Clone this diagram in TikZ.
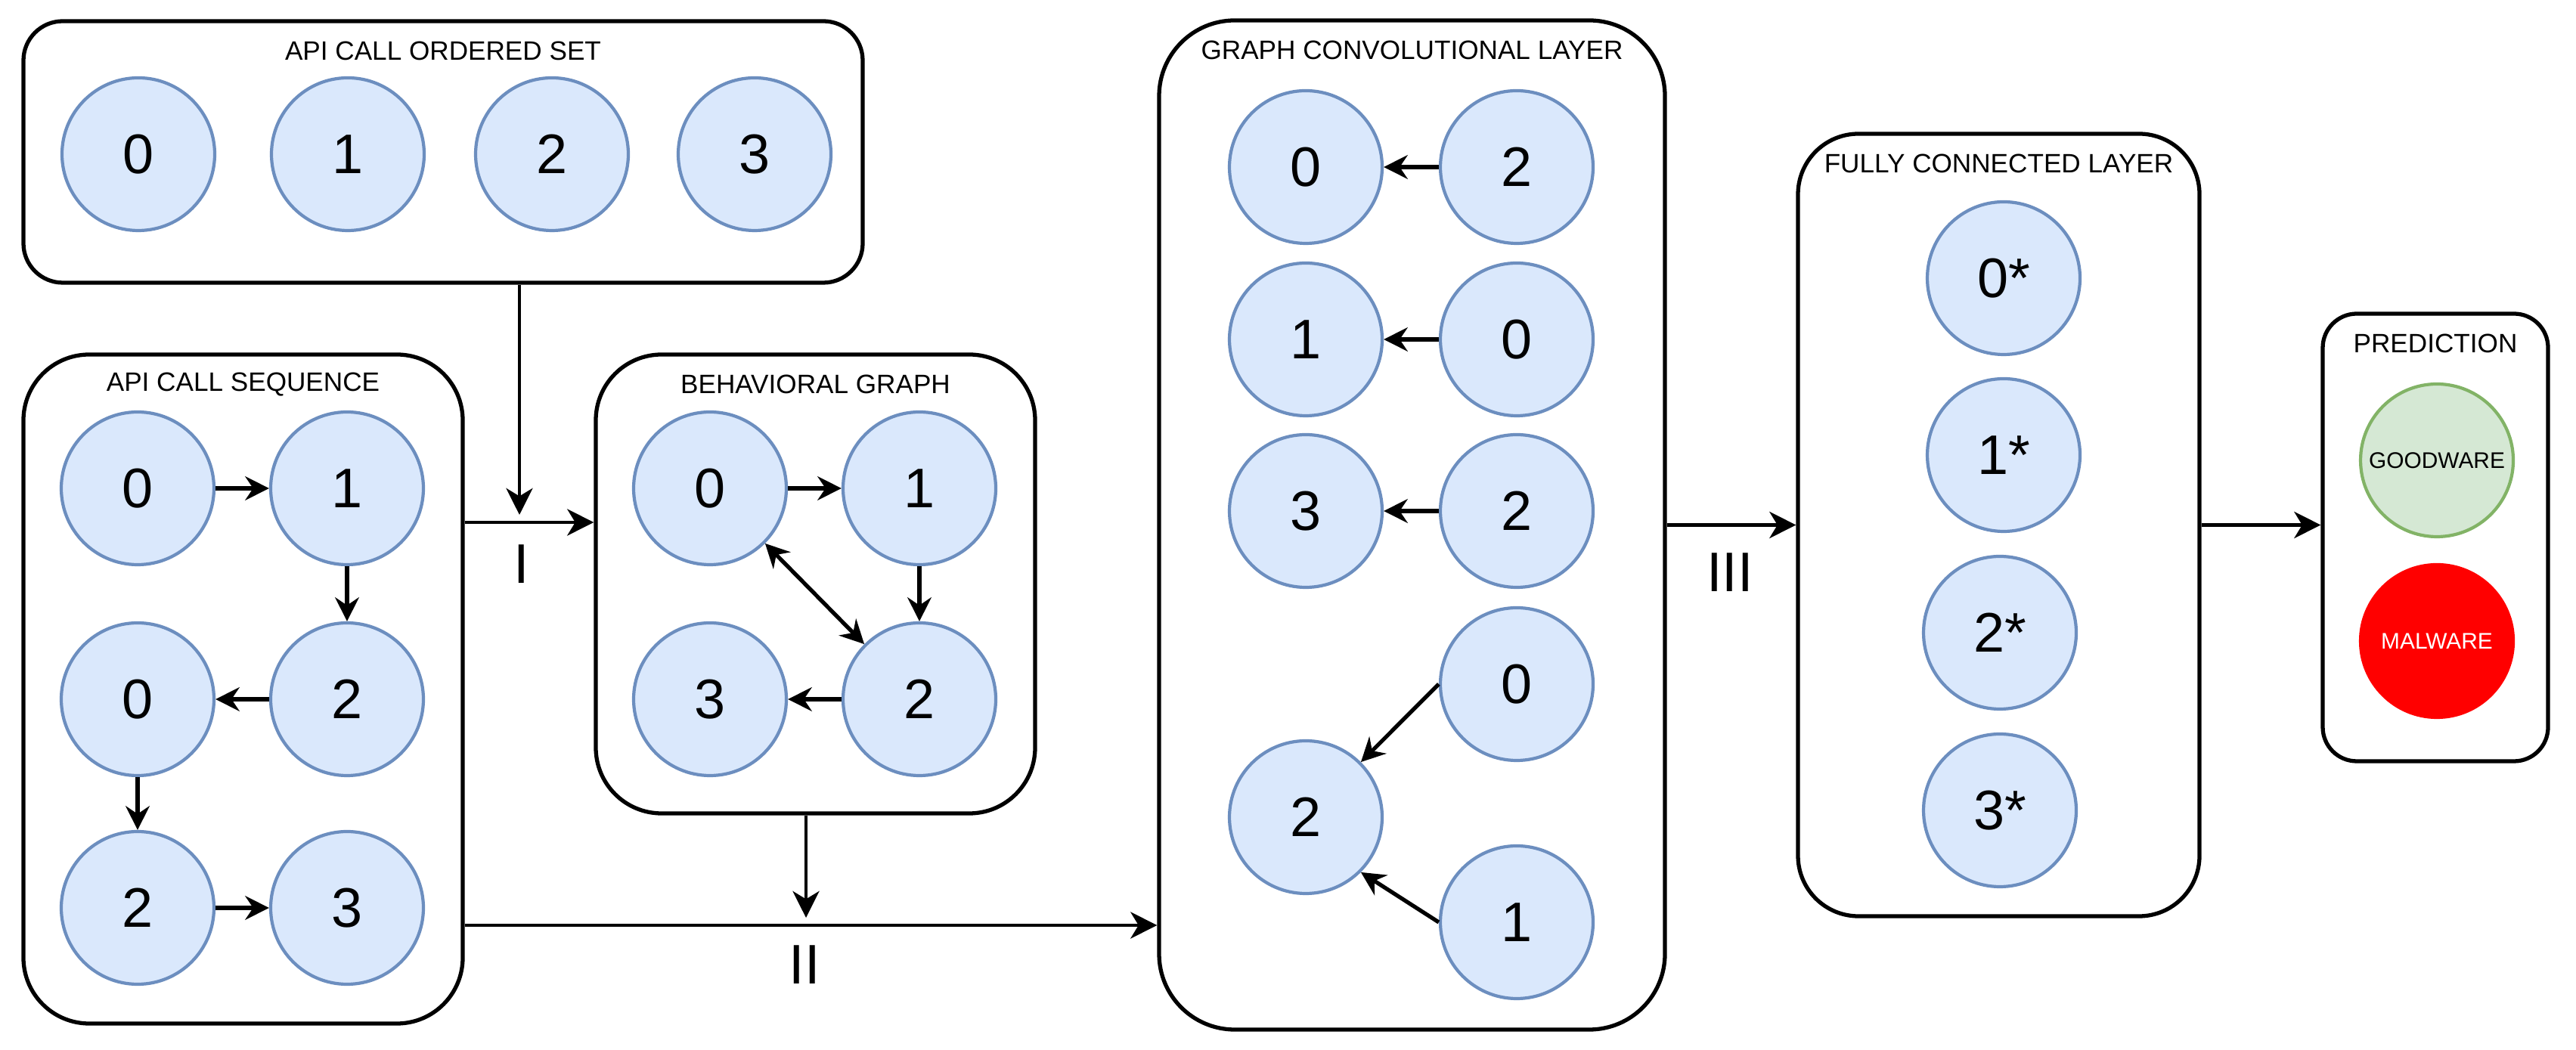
\documentclass[tikz,border=0pt]{standalone}
\usepackage{fontspec}
\setmainfont{Liberation Sans}
\usetikzlibrary{arrows.meta}

\definecolor{nodefill}{HTML}{DAE8FC}
\definecolor{nodeline}{HTML}{6C8EBF}
\definecolor{goodfill}{HTML}{D5E8D4}
\definecolor{goodline}{HTML}{82B366}
\definecolor{badfill}{HTML}{FF0000}

\begin{document}
\begin{tikzpicture}[
    box/.style={draw, line width=1.5pt, inner sep=0pt},
    ttl/.style={font=\fontsize{10}{12}\selectfont},
    num/.style={circle, draw=nodeline, fill=nodefill, line width=1.2pt, minimum size=2.02cm, inner sep=0pt, font=\fontsize{21}{25}\selectfont},
    lbl/.style={font=\fontsize{21}{25}\selectfont},
    edge/.style={line width=1.5pt, -{Stealth[length=9pt,width=9pt,inset=3pt]}},
    flow/.style={line width=1.2pt, -{Stealth[length=10pt,width=10pt,inset=3pt]}}
  ]
    \useasboundingbox (0,0) rectangle (34.07,13.89);

    \node[box, rounded corners=0.52cm, minimum width=11.10cm, minimum height=3.46cm] (os) at (5.86,11.88) {};
    \node[box, rounded corners=0.87cm, minimum width=5.81cm, minimum height=8.85cm] (seq) at (3.215,4.775) {};
    \node[box, rounded corners=0.87cm, minimum width=5.81cm, minimum height=6.07cm] (bg) at (10.785,6.165) {};
    \node[box, rounded corners=1.0cm, minimum width=6.69cm, minimum height=13.35cm] (gcn) at (18.675,6.945) {};
    \node[box, rounded corners=0.8cm, minimum width=5.31cm, minimum height=10.35cm] (fc) at (26.435,6.945) {};
    \node[box, rounded corners=0.45cm, minimum width=2.98cm, minimum height=5.92cm] (pred) at (32.21,6.78) {};

    \node[ttl] at ([yshift=-0.42cm]os.north) {API CALL ORDERED SET};
    \node[ttl] at ([yshift=-0.42cm]seq.north) {API CALL SEQUENCE};
    \node[ttl] at ([yshift=-0.42cm]bg.north) {BEHAVIORAL GRAPH};
    \node[ttl] at ([yshift=-0.42cm]gcn.north) {GRAPH CONVOLUTIONAL LAYER};
    \node[ttl] at ([yshift=-0.42cm]fc.north) {FULLY CONNECTED LAYER};
    \node[ttl] at ([yshift=-0.42cm]pred.north) {PREDICTION};

    \node[num] (o0) at (1.83,11.85) {0};
    \node[num] (o1) at (4.60,11.85) {1};
    \node[num] (o2) at (7.30,11.85) {2};
    \node[num] (o3) at (9.98,11.85) {3};

    \node[num] (s0) at (1.82,7.43) {0};
    \node[num] (s1) at (4.59,7.43) {1};
    \node[num] (s2) at (4.59,4.64) {2};
    \node[num] (s3) at (1.82,4.64) {0};
    \node[num] (s4) at (1.82,1.88) {2};
    \node[num] (s5) at (4.59,1.88) {3};

    \node[num] (b0) at (9.39,7.43) {0};
    \node[num] (b1) at (12.16,7.43) {1};
    \node[num] (b2) at (12.16,4.64) {2};
    \node[num] (b3) at (9.39,4.64) {3};

    \node[num] (g0) at (17.27,11.68) {0};
    \node[num] (g1) at (20.06,11.68) {2};
    \node[num] (g2) at (17.27,9.40) {1};
    \node[num] (g3) at (20.06,9.40) {0};
    \node[num] (g4) at (17.27,7.13) {3};
    \node[num] (g5) at (20.06,7.13) {2};
    \node[num] (g6) at (20.06,4.84) {0};
    \node[num] (g7) at (17.27,3.08) {2};
    \node[num] (g8) at (20.06,1.69) {1};

    \node[num] (f0) at (26.50,10.21) {0*};
    \node[num] (f1) at (26.50,7.87) {1*};
    \node[num] (f2) at (26.45,5.52) {2*};
    \node[num] (f3) at (26.45,3.17) {3*};

    \node[num, draw=goodline, fill=goodfill, font=\fontsize{8.5}{10}\selectfont] (good) at (32.23,7.80) {GOODWARE};
    \node[num, draw=badfill, fill=badfill, text=white, font=\fontsize{8.5}{10}\selectfont] (mal) at (32.23,5.41) {MALWARE};

    \draw[edge] (s0) -- (s1);
    \draw[edge] (s1) -- (s2);
    \draw[edge] (s2) -- (s3);
    \draw[edge] (s3) -- (s4);
    \draw[edge] (s4) -- (s5);

    \draw[edge] (b0) -- (b1);
    \draw[edge] (b1) -- (b2);
    \draw[edge] (b2) -- (b3);
    \draw[edge, {Stealth[length=9pt,width=9pt,inset=3pt]}-{Stealth[length=9pt,width=9pt,inset=3pt]}] (b0.south east) -- (b2.north west);

    \draw[edge] (g1) -- (g0);
    \draw[edge] (g3) -- (g2);
    \draw[edge] (g5) -- (g4);
    \draw[edge] (g6.west) -- (g7.north east);
    \draw[edge] (g8.west) -- (g7.south east);

    \coordinate (j1) at (6.87,6.98);
    \coordinate (j2) at (10.66,1.65);
    \draw[flow] (os.south -| j1) -- ([yshift=0.1cm]j1);
    \draw[flow] (seq.east |- j1) -- (bg.west |- j1);
    \draw[flow] (bg.south -| j2) -- ([yshift=0.1cm]j2);
    \draw[flow] (seq.east |- j2) -- (gcn.west |- j2);
    \draw[flow] (gcn.east) -- (fc.west);
    \draw[flow] (fc.east) -- (pred.west |- fc.east);

    \node[lbl] (n1) at (6.90,6.43) {I};
    \node[lbl] (n2) at (10.64,1.13) {II};
    \node[lbl] (n3) at (22.88,6.32) {III};
  \end{tikzpicture}
\end{document}
